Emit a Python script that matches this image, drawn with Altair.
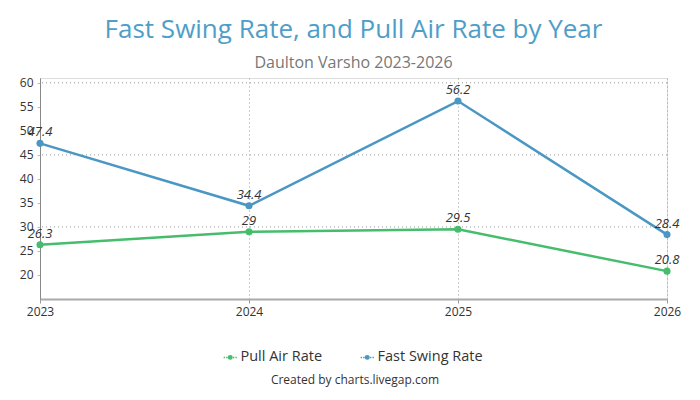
import altair as alt
import pandas as pd

years = ["2023", "2024", "2025", "2026"]
fast_swing = [47.4, 34.4, 56.2, 28.4]
pull_air = [26.3, 29, 29.5, 20.8]
series_names = ["Pull Air Rate", "Fast Swing Rate"]
series_colors = ["#45bd6d", "#4b97c4"]
y_ticks = [20, 25, 30, 35, 40, 45, 50, 55, 60]
y_grid = [30, 45, 60]

rows = []
for y, v in zip(years, pull_air):
    rows.append({"Year": y, "Series": "Pull Air Rate", "Value": v})
for y, v in zip(years, fast_swing):
    rows.append({"Year": y, "Series": "Fast Swing Rate", "Value": v})
df = pd.DataFrame(rows)
grid_df = pd.DataFrame({"g": y_grid})
credit_df = pd.DataFrame({"t": ["Created by charts.livegap.com"]})

FONT = "Open Sans"

x_enc = alt.X("Year:O", sort=years,
              scale=alt.Scale(type="point", padding=0),
              axis=alt.Axis(title=None, labelAngle=0, grid=True, gridDash=[1, 3],
                            gridColor="#999", domainColor="#aaa", domainWidth=2,
                            tickColor="#999", tickSize=4, labelColor="#333",
                            labelFontSize=12, labelFont=FONT, labelPadding=3))
y_scale = alt.Scale(domain=[15, 61], nice=False, zero=False)
y_axis = alt.Axis(title=None, values=y_ticks, grid=False, domainColor="#888",
                  tickColor="#bbb", tickSize=3, labelColor="#333",
                  labelFontSize=12, labelFont=FONT, labelPadding=4,
                  labelOverlap=False)
y_enc = alt.Y("Value:Q", scale=y_scale, axis=y_axis)
symbol_path = ("M-1.7,0L-1.35,0M-1.05,0L-0.7,0M0.7,0L1.05,0M1.35,0L1.7,0"
               "M-0.45,0A0.45,0.45 0 1 1 0.45,0A0.45,0.45 0 1 1 -0.45,0Z")
color_enc = alt.Color("Series:N", scale=alt.Scale(domain=series_names, range=series_colors),
                      legend=alt.Legend(title=None, orient="none", direction="horizontal",
                                        legendX=183, legendY=272, labelFontSize=14.5,
                                        labelFont=FONT, labelColor="#333",
                                        symbolType=symbol_path, symbolSize=60,
                                        symbolStrokeWidth=1.5,
                                        columnPadding=34, labelOffset=3))

grid = alt.Chart(grid_df).mark_rule(strokeDash=[1, 3], color="#999").encode(
    y=alt.Y("g:Q", scale=y_scale, axis=y_axis)
)

base = alt.Chart(df).encode(x=x_enc, y=y_enc, color=color_enc)
lines = base.mark_line(strokeWidth=2.5)
points = base.mark_point(filled=True, size=50, opacity=1)
labels = base.mark_text(dy=-11, fontStyle="italic", fontSize=13, font=FONT,
                        color="#333").encode(text=alt.Text("Value:Q"), color=alt.value("#333"))

credit = alt.Chart(credit_df).mark_text(fontSize=12, font=FONT, color="#333").encode(
    text="t:N", x=alt.value(315), y=alt.value(302)
)

chart = alt.layer(grid, lines, points, labels, credit).properties(
    width=627, height=221,
    autosize=alt.AutoSizeParams(type="none"),
    padding={"left": 32, "top": 70, "right": 25, "bottom": 93},
    title=alt.TitleParams(
        text="Fast Swing Rate, and Pull Air Rate by Year",
        subtitle="Daulton Varsho 2023-2026",
        anchor="middle", font=FONT, fontSize=26, fontWeight="normal",
        color="#4f9ec8", subtitleFont=FONT, subtitleFontSize=16,
        subtitleColor="#777", subtitlePadding=12, offset=6
    )
).configure_view(stroke=None).configure(font=FONT)

chart.save("out.html", embed_options={"renderer": "svg", "actions": False})
